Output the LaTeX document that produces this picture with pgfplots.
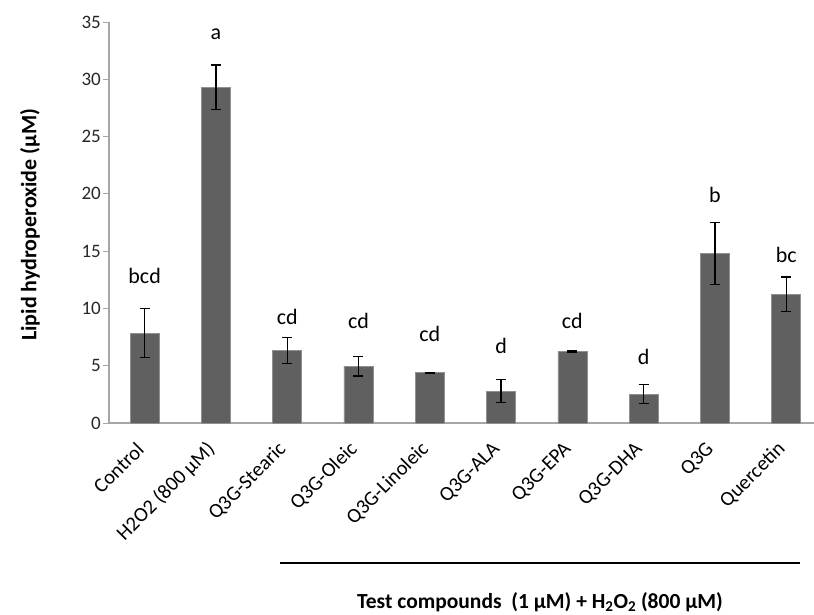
\documentclass[border=0pt]{standalone}
\usepackage{fontspec}
\setmainfont{Carlito}
\usepackage{pgfplots}
\pgfplotsset{compat=1.18}
\definecolor{barc}{HTML}{606060}
\definecolor{axc}{HTML}{A6A6A6}
\begin{document}
\begin{tikzpicture}[x=1pt,y=1pt]
\useasboundingbox (-109,-191) rectangle (705,423);
\begin{axis}[
  at={(0,0)}, anchor=south west,
  scale only axis, width=705pt, height=401pt,
  xmin=-0.5, xmax=9.39, ymin=0, ymax=35,
  axis x line*=bottom, axis y line*=left,
  axis line style={axc, line width=1.2pt},
  ytick={0,5,...,35},
  ytick style={axc, line width=1pt},
  tick align=outside, major tick length=6pt,
  xtick={0,...,9},
  xtick style={draw=none},
  xticklabels={Control, H2O2 (800 μM), Q3G-Stearic, Q3G-Oleic, Q3G-Linoleic, Q3G-ALA, Q3G-EPA, Q3G-DHA, Q3G, Quercetin},
  xticklabel style={rotate=45, anchor=east, font=\fontsize{20.5}{24}\selectfont, inner sep=0pt, xshift=-15pt, yshift=-9pt},
  yticklabel style={font=\fontsize{19}{22}\selectfont, text=black!85, inner sep=2pt},
  /pgf/number format/assume math mode=true,
  ylabel={\textbf{Lipid hydroperoxide (μM)}},
  ylabel style={at={(axis description cs:-0.112,0.494)}, anchor=center, font=\fontsize{22}{25}\selectfont},
  clip=false,
]
\addplot[ybar, bar width=29pt, fill=barc, draw=barc!70!white, line width=0.6pt,
  error bars/.cd, y dir=both, y explicit,
  error bar style={black, line width=1.2pt},
  error mark options={rotate=90, black, mark size=5pt, line width=1.2pt}]
  coordinates {
  (0,7.83) +- (0,2.13)
  (1,29.3) +- (0,1.95)
  (2,6.31) +- (0,1.12)
  (3,4.97) +- (0,0.86)
  (4,4.39) +- (0,0.05)
  (5,2.79) +- (0,1.02)
  (6,6.28) +- (0,0.08)
  (7,2.53) +- (0,0.82)
  (8,14.8) +- (0,2.68)
  (9,11.23) +- (0,1.52)
  };
\begin{scope}[every node/.style={font=\fontsize{22}{26}\selectfont, anchor=center}]
\node at (axis cs:1,33.9) {a};
\node at (axis cs:0,12.8) {bcd};
\node at (axis cs:2,9.3) {cd};
\node at (axis cs:3,8.9) {cd};
\node at (axis cs:4,7.8) {cd};
\node at (axis cs:5,6.7) {d};
\node at (axis cs:6,8.9) {cd};
\node at (axis cs:7,5.8) {d};
\node at (axis cs:8,19.9) {b};
\node at (axis cs:9,14.66) {bc};
\end{scope}
\end{axis}
\draw[black, line width=1.8pt] (171,-140) -- (691,-140);
\node[font=\fontsize{21.5}{24}\selectfont\bfseries] at (431,-179) {Test compounds\ \ (1 μM) + H\textsubscript{2}O\textsubscript{2} (800 μM)};
\end{tikzpicture}
\end{document}
